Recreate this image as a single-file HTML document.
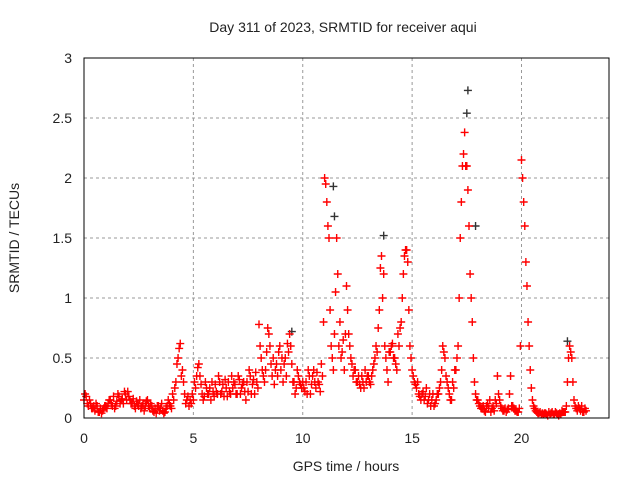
<!DOCTYPE html>
<html><head><meta charset="utf-8"><style>
body{margin:0;background:#fff;font-family:"Liberation Sans",sans-serif}
svg text{font-family:"Liberation Sans",sans-serif;font-size:14px;fill:#222}
</style></head><body>
<svg id="c" width="640" height="480">
<text x="343" y="32" text-anchor="middle">Day 311 of 2023, SRMTID for receiver aqui</text>
<text x="346" y="471" text-anchor="middle">GPS time / hours</text>
<text transform="translate(19,238) rotate(-90)" text-anchor="middle">SRMTID / TECUs</text>
<g id="grid"></g><g id="ticks"></g><g id="black"></g><g id="red"></g>
<rect x="84" y="58" width="525" height="360" fill="none" stroke="#000" stroke-width="1"/>
</svg>
<script>
const xTicks=[0,5,10,15,20];
const yTicks=[0,0.5,1,1.5,2,2.5,3];
const yTickLabels=["0","0.5","1","1.5","2","2.5","3"];
const tStart=0, tStep=0.1, tStart2=0.05;
const redValues=[
.15,.18,.1,.12,.08,.06,.1,.05,.04,.08,
.1,.12,.15,.1,.08,.14,.18,.15,.12,.2,
.22,.15,.12,.1,.14,.1,.08,.12,.1,.15,
.08,.1,.05,.04,.1,.08,.06,.05,.1,.12,
.08,.15,.3,.5,.62,.4,.2,.15,.1,.12,
.15,.25,.42,.35,.2,.18,.25,.2,.15,.22,
.28,.2,.3,.22,.18,.25,.3,.2,.25,.28,
.2,.32,.25,.3,.15,.22,.35,.28,.2,.3,
.78,.5,.35,.4,.75,.6,.35,.28,.45,.55,
.4,.3,.5,.62,.7,.45,.3,.25,.35,.28,
.3,.22,.2,.35,.28,.4,.25,.3,.22,.35,
2.0,1.8,1.5,.6,.4,1.05,1.2,.8,.55,.4,
1.1,.7,.5,.35,.4,.3,.28,.35,.25,.3,
.35,.28,.4,.5,.55,.9,1.35,1.2,.5,.3,
.55,.62,.5,.4,.6,.8,1.2,1.4,1.3,.6,
.4,.3,.25,.2,.15,.22,.18,.12,.2,.15,
.1,.15,.2,.3,.6,.5,.3,.2,.15,.25,
.4,.6,1.5,2.1,2.38,2.1,1.6,1.0,.5,.2,
.15,.1,.08,.06,.1,.08,.05,.1,.15,.35,
.15,.08,.06,.05,.08,.35,.1,.06,.05,.08,
2.15,1.8,1.3,.8,.4,.15,.08,.05,.04,.03,
.03,.04,.02,.03,.05,.03,.04,.02,.03,.05,
.05,.3,.6,.5,.15,.08,.1,.06,.05,.08];
const redValues2=[
.2,.12,.15,.08,.1,.12,.05,.08,.06,.1,
.08,.15,.12,.18,.1,.2,.12,.16,.22,.15,
.18,.12,.16,.08,.12,.15,.1,.06,.14,.1,
.12,.06,.08,.1,.06,.12,.04,.08,.15,.1,
.2,.25,.45,.58,.35,.3,.12,.18,.15,.2,
.3,.35,.45,.28,.15,.3,.2,.25,.3,.18,
.22,.35,.2,.28,.32,.18,.22,.35,.3,.2,
.35,.2,.28,.22,.3,.4,.2,.32,.38,.25,
.6,.4,.3,.55,.7,.45,.5,.4,.35,.6,
.5,.45,.35,.55,.6,.3,.2,.4,.3,.25,
.25,.3,.4,.2,.35,.3,.38,.28,.45,.8,
1.95,1.6,.9,.5,.7,1.5,.6,.5,.65,.7,
.9,.6,.45,.4,.3,.35,.25,.3,.4,.35,
.3,.35,.45,.6,.75,1.25,1.0,.6,.4,.55,
.6,.5,.45,.7,.75,1.0,1.35,1.4,.9,.5,
.35,.28,.3,.18,.2,.15,.25,.15,.1,.2,
.12,.2,.25,.4,.55,.35,.25,.15,.3,.4,
.5,1.0,1.8,2.2,2.1,1.9,1.2,.8,.3,.15,
.12,.08,.1,.05,.12,.15,.08,.06,.12,.2,
.1,.06,.08,.07,.2,.1,.08,.06,.05,.6,
2.0,1.6,1.1,.6,.25,.1,.06,.04,.05,.04,
.04,.03,.05,.04,.03,.05,.03,.04,.06,.05,
.1,.5,.55,.3,.1,.06,.08,.1,.05,.06];
const blackTimes=[11.4,11.45,17.55,17.5,13.7,9.5,22.1,17.9];
const blackValues=[1.93,1.68,2.73,2.54,1.52,0.72,0.64,1.6];
const X=t=>84+t*(525/24), Y=v=>418-v*120;
const NS="http://www.w3.org/2000/svg";
const g=id=>document.getElementById(id);
function mk(tag,attrs,parent){const e=document.createElementNS(NS,tag);for(const k in attrs)e.setAttribute(k,attrs[k]);parent.appendChild(e);return e;}
xTicks.forEach(t=>{
 if(t>0){const l=mk('line',{x1:X(t),x2:X(t),y1:58,y2:418,stroke:'#999','stroke-dasharray':'3,3'},g('grid'));
 
 }
 const tx=mk('text',{x:X(t),y:443,'text-anchor':'middle'},g('ticks'));tx.textContent=t;
 
 
});
yTicks.forEach((v,i)=>{
 if(v>0&&v<3){const l=mk('line',{x1:84,x2:609,y1:Y(v),y2:Y(v),stroke:'#999','stroke-dasharray':'3,3'},g('grid'));
 
 }
 const tx=mk('text',{x:72,y:Y(v)+5,'text-anchor':'end'},g('ticks'));tx.textContent=yTickLabels[i];
 
 
});
function cross(x,y,col,parent){
 return mk('path',{d:`M${x-4} ${y}h8M${x} ${y-4}v8`,stroke:col,'stroke-width':1.4,fill:'none'},parent);
}
blackTimes.forEach((t,i)=>{
 const p=cross(X(t),Y(blackValues[i]),'#333',g('black'));
 
 
});
redValues.forEach((v,i)=>{
 const p=cross(X(tStart+i*tStep),Y(v),'#f00',g('red'));
 
 
});
redValues2.forEach((v,i)=>{
 const p=cross(X(tStart2+i*tStep),Y(v),'#f00',g('red'));
 
 
});
</script>
</body></html>
